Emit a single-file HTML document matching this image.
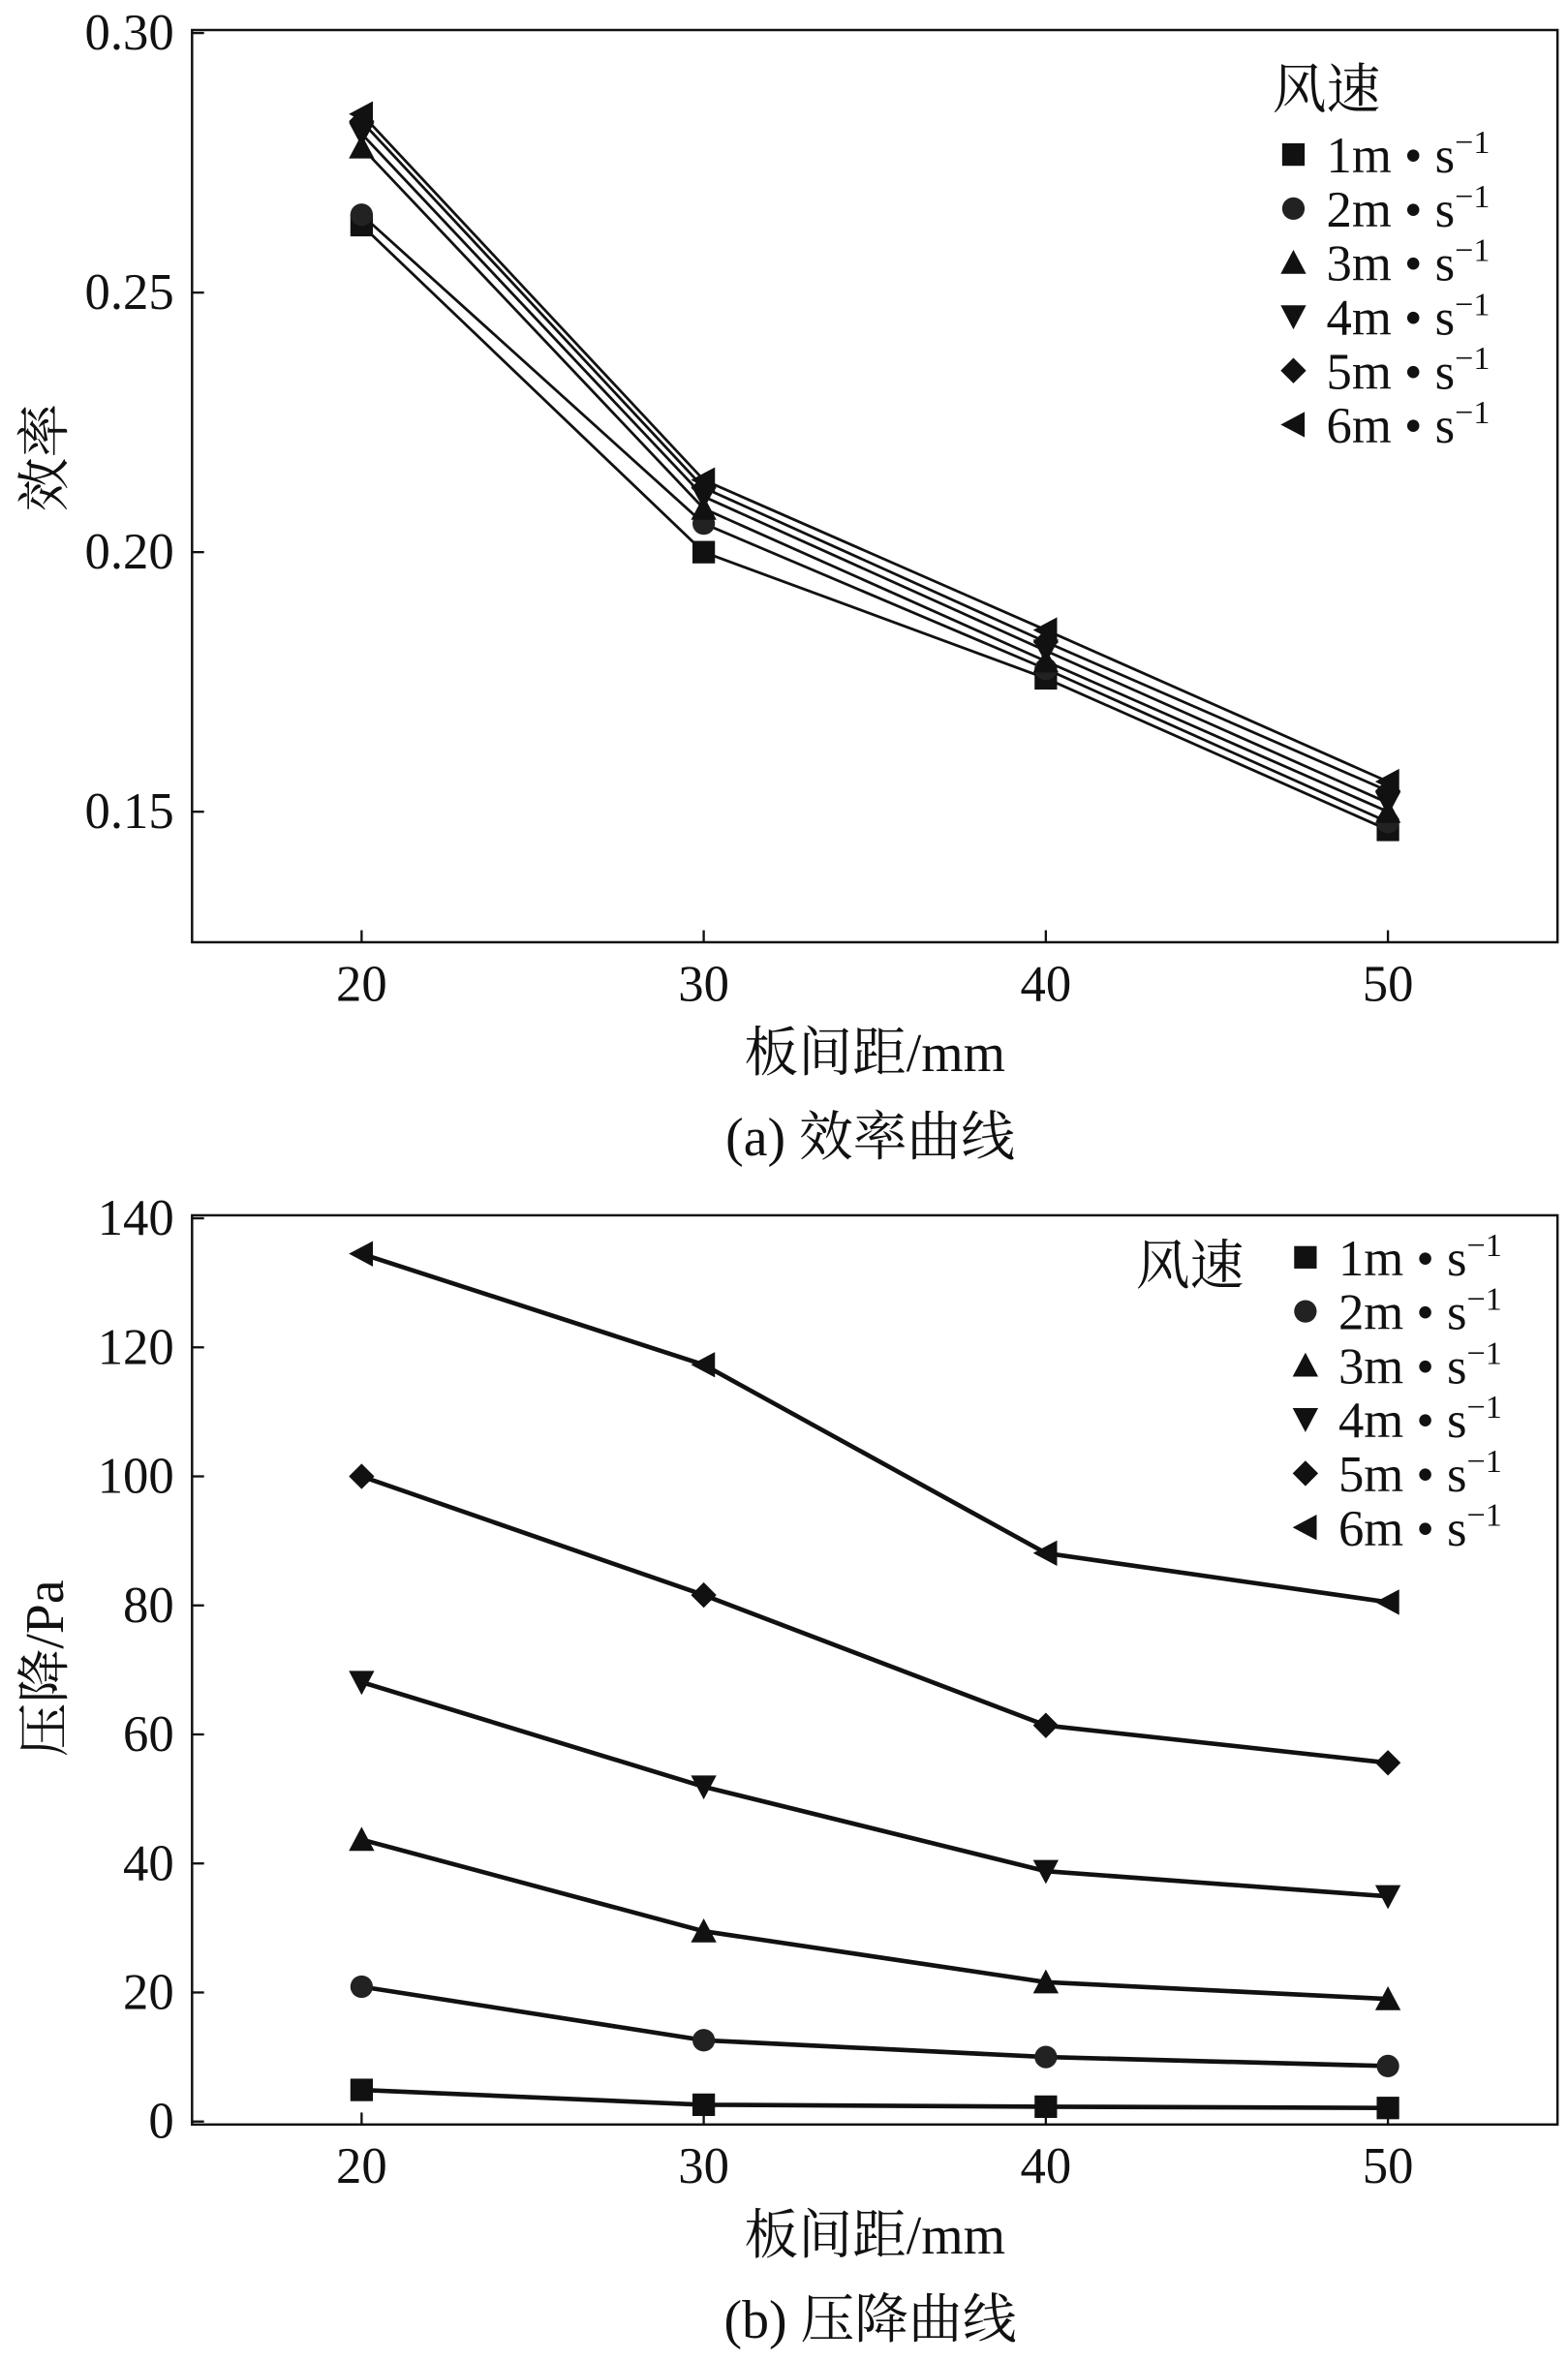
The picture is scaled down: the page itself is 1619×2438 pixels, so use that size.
<!DOCTYPE html>
<html><head><meta charset="utf-8"><style>
html,body{margin:0;padding:0;background:#fff}
svg{display:block}
text{font-family:"Liberation Serif","Noto Serif CJK SC",serif;fill:#111}
</style></head><body>
<svg id="svg" width="1619" height="2438" viewBox="0 0 1045 1573.6"></svg>
<script>
const categories=[20,30,40,50];
const seriesLabels=["1m","2m","3m","4m","5m","6m"];
const effS1=[0.263,0.200,0.1757,0.1465];
const effS2=[0.265,0.2055,0.1775,0.148];
const effS3=[0.278,0.2084,0.179,0.150];
const effS4=[0.2806,0.2107,0.181,0.1517];
const effS5=[0.283,0.2124,0.1827,0.154];
const effS6=[0.2844,0.2139,0.185,0.1558];
const prS1=[4.9,2.6,2.3,2.1];
const prS2=[20.9,12.6,10,8.6];
const prS3=[43.7,29.5,21.6,19];
const prS4=[68.1,51.9,38.8,34.9];
const prS5=[100,81.6,61.4,55.6];
const prS6=[134.5,117.3,88.1,80.5];
const effTicks=[0.15,0.20,0.25,0.30];
const prTicks=[0,20,40,60,80,100,120,140];
const xTicks=[20,30,40,50];

const svg=document.getElementById('svg');
const NS='http://www.w3.org/2000/svg';
const FF='"Liberation Serif","Noto Serif CJK SC",serif';
function mk(tag,attrs,parent){const e=document.createElementNS(NS,tag);for(const k in attrs)e.setAttribute(k,attrs[k]);if(tag==='text')e.setAttribute('font-family',FF);(parent||svg).appendChild(e);return e;}
function xS(v){return 241+(v-20)*22.8;}
function marker(kind,x,y,g){
  const s=7.5;let e;
  if(kind===0)e=mk('rect',{x:x-s,y:y-s,width:2*s,height:2*s,fill:'#111'},g);
  else if(kind===1)e=mk('circle',{cx:x,cy:y,r:s,fill:'#222'},g);
  else if(kind===2)e=mk('polygon',{points:`${x},${y-s-1} ${x+s+1},${y+s} ${x-s-1},${y+s}`,fill:'#111'},g);
  else if(kind===3)e=mk('polygon',{points:`${x-s-1},${y-s} ${x+s+1},${y-s} ${x},${y+s+1}`,fill:'#111'},g);
  else if(kind===4)e=mk('polygon',{points:`${x},${y-s-1} ${x+s+1},${y} ${x},${y+s+1} ${x-s-1},${y}`,fill:'#111'},g);
  else e=mk('polygon',{points:`${x-s-1},${y} ${x+s},${y-s-1} ${x+s},${y+s+1}`,fill:'#111'},g);
  
  
}
function chart(opt){
  const g=mk('g',{});
  
  
  const f=opt.y;
  const frame=mk('rect',{x:128,y:opt.top,width:910,height:opt.bot-opt.top,fill:'none',stroke:'#111','stroke-width':1.6},g);
  
  
  opt.ticks.forEach(t=>{
    const y=f(t);
    mk('line',{x1:128,x2:136,y1:y,y2:y,stroke:'#111','stroke-width':1.5},g);
    const tx=mk('text',{x:116,y:y+11,'font-size':34,'text-anchor':'end'},g);
    tx.textContent=opt.fmt(t);
    
    
  });
  xTicks.forEach(t=>{
    const x=xS(t);
    mk('line',{x1:x,x2:x,y1:opt.bot,y2:opt.bot-8,stroke:'#111','stroke-width':1.5},g);
    const tx=mk('text',{x:x,y:opt.bot+39,'font-size':34,'text-anchor':'middle'},g);
    tx.textContent=t;
    
    
  });
  opt.series.forEach((s,i)=>{
    const pts=s.map((v,j)=>xS(categories[j])+','+f(v)).join(' ');
    const pl=mk('polyline',{points:pts,fill:'none',stroke:'#111','stroke-width':opt.lw},g);
    
    
    s.forEach((v,j)=>marker(i,xS(categories[j]),f(v),g));
  });
  const xt=mk('text',{x:583,y:opt.bot+86,'font-size':36,'text-anchor':'middle'},g);
  xt.textContent='板间距/mm';
  
  
  const cap=mk('text',{x:580,y:opt.bot+142,'font-size':36,'text-anchor':'middle'},g);
  cap.textContent=opt.caption;
  
  
  const yt=mk('text',{x:0,y:0,'font-size':36,'text-anchor':'middle',transform:`translate(42,${opt.ymid}) rotate(-90)`},g);
  yt.textContent=opt.ytitle;
  
  
  const lt=mk('text',{x:opt.lt[0],y:opt.lt[1],'font-size':36},g);
  lt.textContent='风速';
  
  
  seriesLabels.forEach((l,i)=>{
    const y=opt.ly+i*36;
    marker(i,opt.lx,y,g);
    const t=mk('text',{x:opt.lx+22,y:y+12,'font-size':34},g);
    t.innerHTML=l+' • s<tspan dy="-13" font-size="22">−1</tspan>';
    
    
  });
}
chart({name:'efficiency-chart',top:20,bot:628,y:v=>22+(0.30-v)*3460,ticks:effTicks,fmt:t=>t.toFixed(2),
  series:[effS1,effS2,effS3,effS4,effS5,effS6],lw:1.8,caption:'(a) 效率曲线',ytitle:'效率',ymid:305,
  lt:[848,72],lx:862,ly:103});
chart({name:'pressure-chart',top:810,bot:1416,y:v=>1414-v*4.3,ticks:prTicks,fmt:t=>t,
  series:[prS1,prS2,prS3,prS4,prS5,prS6],lw:3,caption:'(b) 压降曲线',ytitle:'压降/Pa',ymid:1112,
  lt:[757,856],lx:870,ly:838});
</script>
</body></html>
